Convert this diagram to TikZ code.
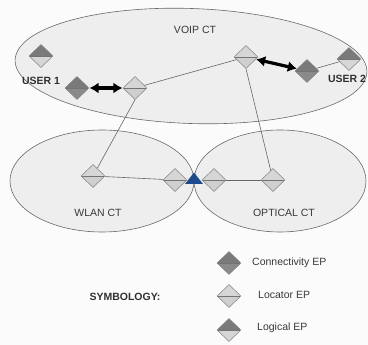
\documentclass[tikz,border=0pt]{standalone}
\usepackage{fontspec}
\setmainfont{Liberation Sans}
\usetikzlibrary{shapes.geometric,arrows.meta}
\definecolor{bgc}{HTML}{FBFBFB}
\definecolor{ctfill}{HTML}{EEEEEE}
\definecolor{ctline}{HTML}{6A6A6A}
\definecolor{darktop}{HTML}{7A7A7A}
\definecolor{darkbot}{HTML}{8A8A8A}
\definecolor{lighttop}{HTML}{D6D6D6}
\definecolor{lightbot}{HTML}{CFCFCF}
\definecolor{epline}{HTML}{828282}
\definecolor{txt}{HTML}{383838}
\definecolor{triblue}{HTML}{1C4A8C}
\tikzset{
  ct/.style={ellipse, draw=ctline, fill=ctfill, line width=0.6pt, inner sep=0pt},
  ep/.style 2 args={diamond, minimum width=24pt, minimum height=23pt, inner sep=0pt,
    draw=epline, line width=0.5pt,
    path picture={
      \fill[#1] (path picture bounding box.north west) rectangle (path picture bounding box.east);
      \fill[#2] (path picture bounding box.west) rectangle (path picture bounding box.south east);
      \draw[black!55, line width=0.5pt] (path picture bounding box.west) -- (path picture bounding box.east);
    }},
  conn/.style={ep={darktop}{darkbot}},
  loc/.style={ep={lighttop}{lightbot}},
  logi/.style={ep={darktop}{lighttop}},
  link/.style={draw=black!60, line width=0.6pt},
  dbl/.style={draw=black, line width=3.2pt, {Latex[length=9pt,width=11pt]}-{Latex[length=9pt,width=11pt]}, shorten <=0.3pt, shorten >=0.3pt},
  lbl/.style={text=txt, font=\fontsize{10.5}{12}\selectfont, inner sep=0pt},
  blbl/.style={text=txt!85!black, font=\fontsize{10.5}{12}\selectfont\bfseries, inner sep=0pt},
}
\begin{document}
\begin{tikzpicture}[x=1pt,y=-1pt]
\useasboundingbox (0,0) rectangle (368,345);
\fill[bgc] (0,0) rectangle (368,345);

% clouds (CTs)
\node[ct, minimum width=352pt, minimum height=115pt, rotate=-2] (voip) at (191,66) {};
\node[ct, minimum width=184pt, minimum height=102pt] (wlan) at (102,181) {};
\node[ct, minimum width=172pt, minimum height=102pt] (optical) at (280,181) {};

\node[lbl] (voiplbl) at (195,30) {VOIP CT};
\node[lbl] (wlanlbl) at (98,213) {WLAN CT};
\node[lbl] (optlbl) at (284,213) {OPTICAL CT};

% endpoints in VOIP CT
\node[logi] (g1) at (41,56) {};
\node[conn] (c1) at (77,88) {};
\node[loc]  (l1) at (135,88) {};
\node[loc]  (l2) at (246,57) {};
\node[conn] (c2) at (307,71) {};
\node[logi] (g2) at (349,59) {};
\node[blbl] (u1) at (41,81) {USER 1};
\node[blbl] (u2) at (347,79) {USER 2};

% endpoints in lower CTs
\node[loc] (w1) at (93,176) {};
\node[loc] (w2) at (175,180) {};
\node[loc] (w3) at (214,180) {};
\node[loc] (o2) at (273,180) {};

% links
\draw[link] (l1) -- (l2);
\draw[link] (c2) -- (g2);
\draw[link] (l1.south) -- (w1);
\draw[link] (l2.south) -- (o2);
\draw[link] (w1) -- (w2);
\draw[link] (w3) -- (o2);

% double arrows
\draw[dbl] (c1) -- (l1);
\draw[dbl] (l2) -- (c2);

% gateway triangle
\coordinate (ta) at (185,184);
\coordinate (tb) at (194,172.5);
\coordinate (tc) at (203,184);
\fill[triblue] (ta) -- (tb) -- (tc) -- cycle;

% legend
\node[conn] (kc) at (229,263) {};
\node[loc]  (kl) at (229,296) {};
\node[logi] (kg) at (229,330) {};
\node[lbl, anchor=west] (kct) at (252,263) {Connectivity EP};
\node[lbl, anchor=west] (klt) at (258,295) {Locator EP};
\node[lbl, anchor=west] (kgt) at (257,328) {Logical EP};
\node[blbl] (sym) at (125,297) {SYMBOLOGY:};
\end{tikzpicture}
\end{document}
